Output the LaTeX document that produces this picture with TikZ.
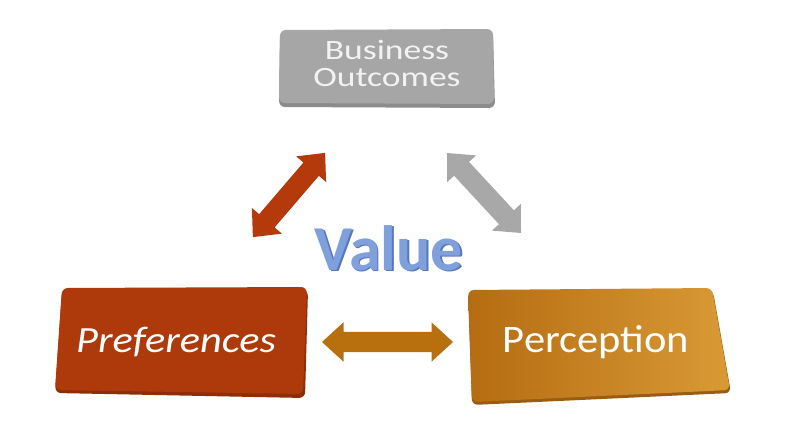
\documentclass[tikz,border=0pt]{standalone}
\usepackage{fontspec}
\setmainfont{Carlito}
\usetikzlibrary{shapes.arrows,shadows}
\definecolor{boxgray}{HTML}{A6A6A6}
\definecolor{boxgraydk}{HTML}{8C8C8C}
\definecolor{prefred}{HTML}{AE3A0B}
\definecolor{prefreddk}{HTML}{8E2E08}
\definecolor{percA}{HTML}{B56C12}
\definecolor{percB}{HTML}{D99A35}
\definecolor{percdk}{HTML}{9A5C10}
\definecolor{arrred}{HTML}{B43A0C}
\definecolor{arrgray}{HTML}{A8A8A8}
\definecolor{arrbrown}{HTML}{B8700F}
\definecolor{valfill}{HTML}{7FA0DA}
\definecolor{valedge}{HTML}{5578C0}
\tikzset{
  dblarrow/.style={double arrow, draw=none, inner sep=0pt, minimum width=39pt,
    double arrow head extend=9.5pt, double arrow tip angle=85, text height=0pt, text depth=0pt,
    inner ysep=10pt, inner xsep=0pt},
  boxtext/.style={inner sep=0pt, text=white, anchor=base},
}
\begin{document}
\begin{tikzpicture}[x=1pt,y=-1pt]
\useasboundingbox (0,0) rectangle (796,424);
\fill[white] (0,0) rectangle (796,424);
% top box
\fill[boxgraydk,rounded corners=6pt] (280,33)--(493,32)--(495,108)--(279,107)--cycle;
\fill[boxgray,rounded corners=6pt] (280,30)--(493,29)--(494,104)--(279,103)--cycle;
\node[boxtext, text=white!95!black] (bus) at (387,59) {\scalebox{1.27}[1]{\fontsize{28}{28}\selectfont Business}};
\node[boxtext, text=white!95!black] (out) at (387,86.5) {\scalebox{1.27}[1]{\fontsize{28}{28}\selectfont Outcomes}};
% left box
\fill[prefreddk,rounded corners=6pt] (62,291)--(308,290)--(305,398)--(55,393)--cycle;
\fill[prefred,rounded corners=6pt] (62,288)--(307,287)--(303,394)--(55,390)--cycle;
\node[boxtext] (pref) at (176,352) {\scalebox{1.145}[1]{\fontsize{37}{37}\selectfont\itshape Preferences}};
% right box
\fill[percdk,rounded corners=6pt] (468,293)--(713,291)--(731,393)--(472,405)--cycle;
\shade[left color=percA,right color=percB,rounded corners=6pt] (468,290)--(712,288)--(730,390)--(472,402)--cycle;
\node[boxtext] (perc) at (596,352) {\scalebox{1.09}[1]{\fontsize{39}{39}\selectfont Perception}};
% Value
\node[inner sep=0pt, anchor=base, text=valedge] (valsh) at (390.5,271.5) {\fontsize{64}{64}\selectfont\bfseries Value};
\node[inner sep=0pt, anchor=base, text=valfill] (val) at (389,270) {\fontsize{64}{64}\selectfont\bfseries Value};
% arrows
\node[dblarrow, fill=arrred, minimum height=111pt, rotate=49.4] (a1) at (289,195) {};
\node[dblarrow, fill=arrgray, minimum height=109pt, rotate=-47.2] (a2) at (484,193) {};
\node[dblarrow, fill=arrbrown, minimum height=131pt] (a3) at (387.5,342) {};
\end{tikzpicture}
\end{document}
